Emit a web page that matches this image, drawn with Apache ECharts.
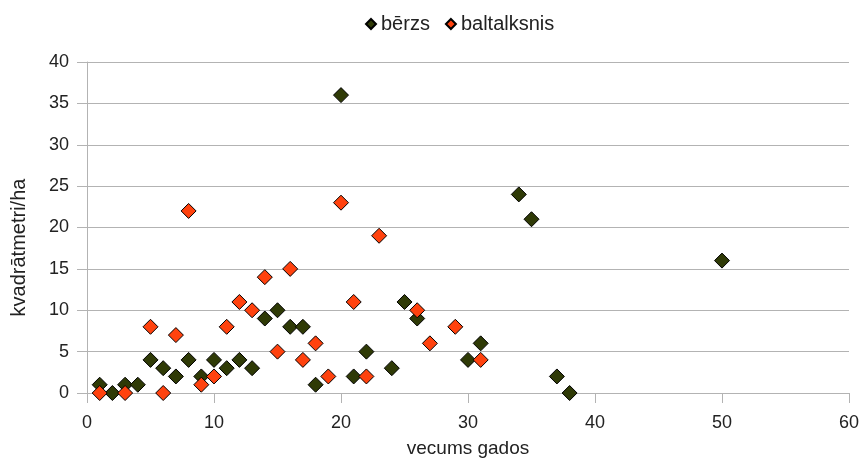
<!DOCTYPE html>
<html>
<head>
<meta charset="utf-8">
<script src="https://cdn.jsdelivr.net/npm/echarts@6/dist/echarts.min.js"></script>
<style>html,body{margin:0;padding:0;background:#fff}#c{width:862px;height:458px}</style>
</head>
<body>
<div id="c"></div>
<script>
const seriesNames = ['bērzs', 'baltalksnis'];
const berzsX = [1,2,3,4,5,6,7,8,9,10,11,12,13,14,15,16,17,18,20,21,22,24,25,26,30,31,34,35,37,38,50];
const berzsY = [1,0,1,1,4,3,2,4,2,4,3,4,3,9,10,8,8,1,36,2,5,3,11,9,4,6,24,21,2,0,16];
const baltX = [1,3,5,6,7,8,9,10,11,12,13,14,15,16,17,18,19,20,21,22,23,26,27,29,31];
const baltY = [0,0,8,0,7,22,1,2,8,11,10,14,5,15,4,6,2,23,11,2,19,10,6,8,4];
const xTicks = [0,10,20,30,40,50,60];
const yTicks = [0,5,10,15,20,25,30,35,40];

const chart = echarts.init(document.getElementById('c'));
const font = 'Liberation Sans';
const txt = '#222';
chart.setOption({
  animation: false,
  textStyle: {fontFamily: font},
  legend: {
    top: 9, left: 360,
    itemWidth: 10, itemHeight: 10, itemGap: 15,
    textStyle: {fontSize: 20, color: txt, fontFamily: font},
    data: seriesNames.map(n => ({name: n, icon: 'diamond'}))
  },
  grid: {left: 87, right: 13, top: 62, bottom: 65, outerBoundsMode: 'none', containLabel: false},
  xAxis: {
    type: 'value', min: xTicks[0], max: xTicks[xTicks.length-1], interval: 10,
    name: 'vecums gados', nameLocation: 'middle', nameGap: 46,
    nameTextStyle: {fontSize: 19, color: txt, fontFamily: font},
    axisLine: {show: true, lineStyle: {color: '#b3b3b3'}},
    axisTick: {show: true, length: 10, lineStyle: {color: '#b3b3b3'}},
    axisLabel: {fontSize: 18, color: txt, margin: 21, fontFamily: font},
    splitLine: {show: false}
  },
  yAxis: {
    type: 'value', min: yTicks[0], max: yTicks[yTicks.length-1], interval: 5,
    name: 'kvadrātmetri/ha', nameLocation: 'middle', nameGap: 58, nameRotate: 90,
    nameTextStyle: {fontSize: 20, color: txt, fontFamily: font, padding: [0, 40, 0, 0]},
    axisLine: {show: true, lineStyle: {color: '#b3b3b3'}},
    axisTick: {show: true, length: 10, lineStyle: {color: '#b3b3b3'}},
    axisLabel: {fontSize: 18, color: txt, margin: 18, fontFamily: font},
    splitLine: {show: true, lineStyle: {color: '#b3b3b3'}}
  },
  series: [
    {
      name: seriesNames[0], type: 'scatter', symbol: 'diamond', symbolSize: 15,
      itemStyle: {color: '#2f3a06', borderColor: '#000', borderWidth: 1, opacity: 1},
      data: berzsX.map((x, i) => [x, berzsY[i]])
    },
    {
      name: seriesNames[1], type: 'scatter', symbol: 'diamond', symbolSize: 15,
      itemStyle: {color: '#ff420e', borderColor: '#000', borderWidth: 1, opacity: 1},
      data: baltX.map((x, i) => [x, baltY[i]])
    }
  ]
});
</script>
</body>
</html>
